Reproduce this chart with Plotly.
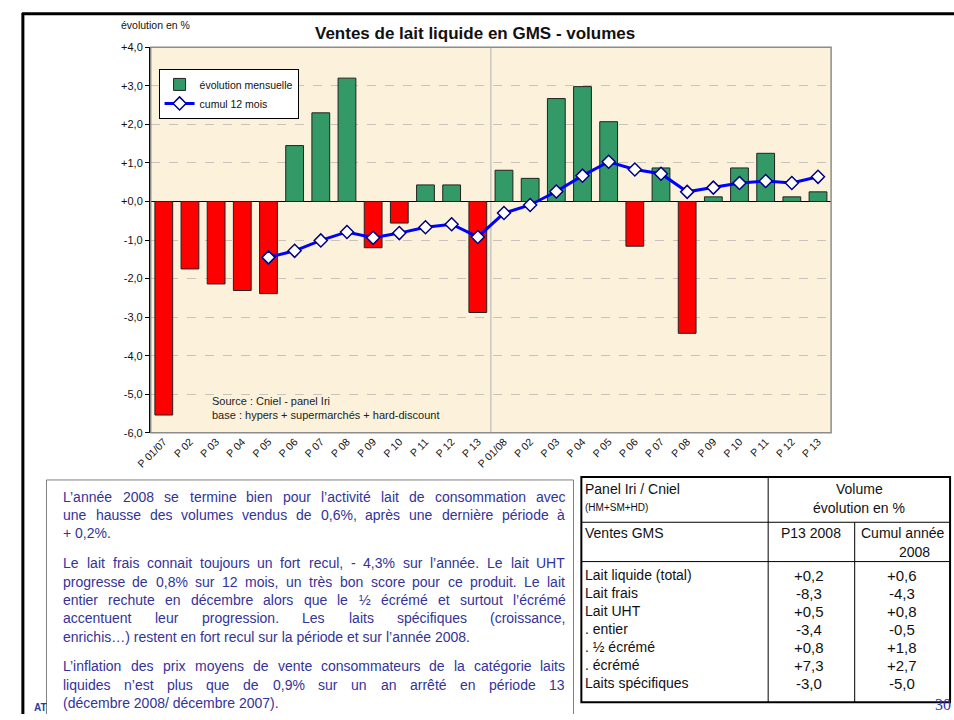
import plotly.graph_objects as go

# ---------------- data ----------------
periods = ["P 01/07", "P 02", "P 03", "P 04", "P 05", "P 06", "P 07", "P 08", "P 09",
           "P 10", "P 11", "P 12", "P 13",
           "P 01/08", "P 02", "P 03", "P 04", "P 05", "P 06", "P 07", "P 08", "P 09",
           "P 10", "P 11", "P 12", "P 13"]
monthly = [-5.54, -1.75, -2.14, -2.31, -2.39, 1.45, 2.30, 3.20, -1.20, -0.56, 0.43, 0.43, -2.88,
           0.81, 0.60, 2.67, 2.98, 2.07, -1.16, 0.87, -3.42, 0.12, 0.87, 1.25, 0.12, 0.25]
cumul12 = [None, None, None, None, -1.45, -1.28, -1.01, -0.79, -0.94, -0.82, -0.67, -0.59, -0.92,
           -0.30, -0.09, 0.26, 0.67, 1.03, 0.83, 0.72, 0.25, 0.36, 0.48, 0.53, 0.48, 0.64]
ytick_vals = [-6, -5, -4, -3, -2, -1, 0, 1, 2, 3, 4]
ytick_text = ["-6,0", "-5,0", "-4,0", "-3,0", "-2,0", "-1,0", "+0,0", "+1,0", "+2,0", "+3,0", "+4,0"]
n_2007 = 13

comment_lines = [
    ["L’année 2008 se termine bien pour l’activité lait de consommation avec",
     "une hausse des volumes vendus de 0,6%, après une dernière période à",
     "+ 0,2%."],
    ["Le lait frais connait toujours un fort recul, - 4,3% sur l’année. Le lait UHT",
     "progresse de 0,8% sur 12 mois, un très bon score pour ce produit. Le lait",
     "entier rechute en décembre alors que le ½ écrémé et surtout l’écrémé",
     "accentuent leur progression. Les laits spécifiques (croissance,",
     "enrichis…) restent en fort recul sur la période et sur l’année 2008."],
    ["L’inflation des prix moyens de vente consommateurs de la catégorie laits",
     "liquides n’est plus que de 0,9% sur un an arrêté en période 13",
     "(décembre 2008/ décembre 2007)."],
]

table_rows = ["Lait liquide (total)", "Lait frais", "Lait UHT", ". entier", ". ½ écrémé", ". écrémé",
              "Laits spécifiques"]
table_p13 = ["+0,2", "-8,3", "+0,5", "-3,4", "+0,8", "+7,3", "-3,0"]
table_cumul = ["+0,6", "-4,3", "+0,8", "-0,5", "+1,8", "+2,7", "-5,0"]

# ---------------- figure ----------------
W, H = 954, 720
FONT = "Liberation Sans, Arial, sans-serif"

def px(x):
    return x / W

def py(y):
    return 1 - y / H

x_idx = list(range(len(periods)))
pos_vals = [v if v >= 0 else None for v in monthly]
neg_vals = [v if v < 0 else None for v in monthly]

fig = go.Figure()
fig.add_trace(go.Bar(x=x_idx, y=pos_vals, name="évolution mensuelle",
                     marker=dict(color="#339966", line=dict(color="#222222", width=1))))
fig.add_trace(go.Bar(x=x_idx, y=neg_vals, name="neg", showlegend=False,
                     marker=dict(color="#FF0000", line=dict(color="#222222", width=1))))
fig.add_trace(go.Scatter(x=x_idx, y=cumul12, name="cumul 12 mois", mode="lines+markers",
                         line=dict(color="#0000FF", width=3),
                         marker=dict(symbol="diamond", size=10, color="white",
                                     line=dict(color="#000080", width=1.5))))

fig.update_layout(
    width=W, height=H,
    margin=dict(l=0, r=0, t=0, b=0, pad=0),
    paper_bgcolor="white",
    plot_bgcolor="#FCF2DB",
    barmode="relative",
    bargap=0.32,
    font=dict(family=FONT, color="#111111"),
    showlegend=True,
    legend=dict(x=px(145), y=py(64), xanchor="left", yanchor="top",
                bgcolor="white", bordercolor="#000000", borderwidth=1,
                font=dict(size=10.5, family=FONT), tracegroupgap=0,
                itemwidth=30),
    xaxis=dict(domain=[px(137), px(829)], range=[-0.5, len(periods) - 0.5],
               tickmode="array", tickvals=x_idx, ticktext=periods, tickangle=-45,
               tickfont=dict(size=10.5, family=FONT, color="#111111"),
               showgrid=False, zeroline=False, showline=False, ticks=""),
    yaxis=dict(domain=[py(434), py(42)], range=[-6, 4],
               tickmode="array", tickvals=ytick_vals, ticktext=ytick_text,
               tickfont=dict(size=11, family=FONT, color="#111111"),
               showgrid=True, gridcolor="#C8C4BC", griddash="dash", gridwidth=1,
               zeroline=True, zerolinecolor="#000000", zerolinewidth=1,
               showline=True, linecolor="#000000", linewidth=1.5,
               ticks="outside", ticklen=4, tickcolor="#000000"),
)

def hline(x0, x1, y, color="#000000", width=1):
    return dict(type="line", xref="paper", yref="paper", x0=px(x0), x1=px(x1), y0=py(y), y1=py(y),
                line=dict(color=color, width=width))

def vline(x, y0, y1, color="#000000", width=1):
    return dict(type="line", xref="paper", yref="paper", x0=px(x), x1=px(x), y0=py(y0), y1=py(y1),
                line=dict(color=color, width=width))

shapes = []
shapes.append(dict(type="rect", xref="x domain", yref="y domain", x0=0, x1=1, y0=0, y1=1,
                   line=dict(color="#8C8C8C", width=1.5), layer="above"))
shapes.append(dict(type="line", xref="x", yref="y domain", x0=n_2007 - 0.5, x1=n_2007 - 0.5,
                   y0=0, y1=1, line=dict(color="#B0B0B0", width=1), layer="below"))
shapes.append(hline(6, W, 8, width=3))
shapes.append(vline(7, 7, H, width=3))
shapes.append(dict(type="rect", xref="paper", yref="paper", x0=px(31), x1=px(567), y0=0, y1=py(482),
                   line=dict(width=0), fillcolor="white"))
shapes.append(hline(31, 567, 482, color="#808080"))
shapes.append(vline(31, 482, H, color="#808080"))
shapes.append(vline(567, 482, H, color="#808080"))
TX0, TX1, TC1, TC2 = 575, 950, 765, 853
TY0, TY1, TR1, TR2 = 479, 708, 525, 565
shapes.append(dict(type="rect", xref="paper", yref="paper", x0=px(TX0), x1=px(TX1), y0=py(TY1), y1=py(TY0),
                   line=dict(color="#000000", width=2), fillcolor="white"))
shapes.append(vline(TC1, TY0, TY1))
shapes.append(vline(TC2, TR1, TY1))
shapes.append(hline(TX0, TX1, TR1))
shapes.append(hline(TX0, TX1, TR2))
fig.update_layout(shapes=shapes)

ann = []

def text(x, y, s, size=12, color="#111111", xanchor="left", bold=False, family=FONT):
    ann.append(dict(xref="paper", yref="paper", x=px(x), y=py(y), text=("<b>%s</b>" % s) if bold else s,
                    showarrow=False, xanchor=xanchor, yanchor="middle", borderpad=0,
                    font=dict(size=size, color=color, family=family)))

text(467, 28, "Ventes de lait liquide en GMS - volumes", size=17, xanchor="center", bold=True)
text(106, 19, "évolution en %", size=10.5)
text(198, 402, "Source : Cniel - panel Iri", size=11, color="#222222")
text(198, 416, "base : hypers + supermarchés + hard-discount", size=11, color="#222222")

text(17, 713, "AT", size=10, color="#1F3FA0", bold=True)
text(952, 710, "30", size=16, color="#3333AA", xanchor="right",
     family="Liberation Serif, Times New Roman, serif")

# ---- justified comment text (Arial metrics, per 1000 em) ----
ARIAL = {" ": 278, "%": 889, "'": 191, "’": 222, "(": 333, ")": 333, "+": 584, ",": 278, "-": 333,
         ".": 278, "/": 278, ":": 278, ";": 278, "…": 1000, "½": 834,
         "A": 667, "B": 667, "C": 722, "D": 722, "E": 667, "F": 611, "G": 778, "H": 722, "I": 278,
         "J": 500, "K": 667, "L": 556, "M": 833, "N": 722, "O": 778, "P": 667, "Q": 778, "R": 722,
         "S": 667, "T": 611, "U": 722, "V": 667, "W": 944, "X": 667, "Y": 667, "Z": 611,
         "c": 500, "f": 278, "i": 222, "j": 222, "k": 500, "l": 222, "m": 833, "r": 333, "s": 500,
         "t": 278, "v": 500, "w": 722, "x": 500, "y": 500, "z": 500, "î": 278, "ï": 278}

def text_width(s, size):
    return sum(ARIAL.get(ch, 556) for ch in s) * size / 1000.0

FS = 14
LEFT, RIGHT = 47, 557
y = 499
for para in comment_lines:
    for i, line in enumerate(para):
        last = (i == len(para) - 1)
        if last:
            text(LEFT, y, line, size=FS, color="#333399")
        else:
            words = line.split(" ")
            total = sum(text_width(w, FS) for w in words)
            gap = (RIGHT - LEFT - total) / (len(words) - 1)
            xw = LEFT
            for w in words:
                text(xw, y, w, size=FS, color="#333399")
                xw += text_width(w, FS) + gap
        y += 18.7
    y += 11.5

# table text
TF = 14
text(578, 491, "Panel Iri / Cniel", size=TF)
text(578, 510, "(HM+SM+HD)", size=10)
text((TC1 + TX1) / 2, 491, "Volume", size=TF, xanchor="center")
text((TC1 + TX1) / 2, 510, "évolution en %", size=TF, xanchor="center")
text(578, 536, "Ventes GMS", size=TF)
text((TC1 + TC2) / 2, 536, "P13 2008", size=TF, xanchor="center")
text((TC2 + TX1) / 2, 536, "Cumul année", size=TF, xanchor="center")
text(914, 555, "2008", size=TF, xanchor="center")
ry = 579
for lab, a, b in zip(table_rows, table_p13, table_cumul):
    text(578, ry, lab, size=TF)
    text((TC1 + TC2) / 2 - 2, ry, a, size=TF + 1, xanchor="center")
    text((TC2 + TX1) / 2, ry, b, size=TF + 1, xanchor="center")
    ry += 18.3

fig.update_layout(annotations=ann)
fig.write_html("out.html", config={"displayModeBar": False},
               post_script="document.body.style.margin='0px';document.body.style.overflow='hidden';")
